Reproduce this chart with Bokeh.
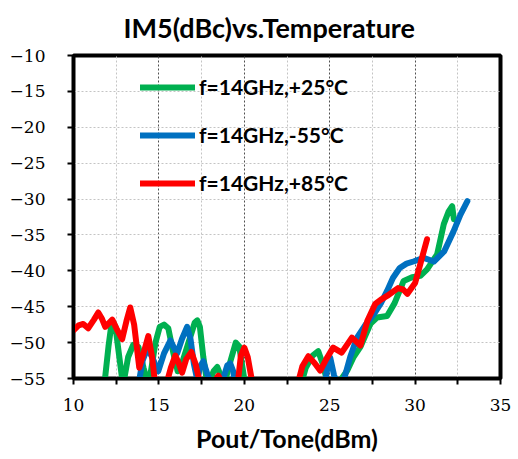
from bokeh.plotting import figure
from bokeh.models import FixedTicker, Range1d, Legend, LegendItem
from bokeh.embed import file_html
from bokeh.resources import INLINE

# IM5 (dBc) versus output power per tone, three temperatures, f = 14 GHz
# Each series is recorded in two sweeps (low-power and high-power region).

g25_x1 = [11.8, 12.05, 12.2, 12.33, 12.46, 12.6, 12.9, 13.2, 13.5, 13.8, 14.1, 14.4, 14.8,
          15.05, 15.3, 15.55, 15.85, 16.1, 16.4, 16.8, 17.1, 17.25, 17.4, 17.6, 17.85,
          18.2, 18.42, 18.6, 18.8, 19.2, 19.5, 19.7, 20.06]
g25_y1 = [-56, -50.5, -47.8, -47.2, -47.8, -50.5, -56, -52, -50.3, -50.6, -53.5, -56, -50,
          -47.8, -47.5, -48, -51.5, -54, -52.5, -49.5, -47.2, -46.9, -47.8, -52, -56,
          -54, -53.4, -54.5, -56, -52.5, -50, -50.5, -56]
g25_x2 = [23.3, 23.6, 24.0, 24.33, 24.6, 24.86, 25.3, 25.7, 26.03, 26.4, 26.8, 27.38, 27.77,
          28.36, 28.8, 29.33, 29.82, 30.31, 30.7, 31.29, 31.68, 31.95, 32.17, 32.27]
g25_y2 = [-56, -53.5, -51.8, -51.2, -53, -55.5, -56, -55, -53.9, -52, -50.6, -47.4, -46.5,
          -46.3, -44.5, -41.4, -40.9, -40.7, -39.8, -37.7, -33.5, -31.8, -31, -32.8]

m55_x1 = [13.79, 14.05, 14.32, 14.6, 14.96, 15.3, 15.67, 15.9, 16.07, 16.35, 16.65, 16.85,
          17.05, 17.25, 17.42, 17.6, 17.85, 18.13, 18.7, 19.0, 19.18, 19.35, 19.47]
m55_y1 = [-56, -52.5, -50.8, -52, -54, -51.5, -49.7, -50.8, -51.5, -49.5, -47.8, -49.5,
          -53, -55.2, -53.3, -52.6, -54.5, -56, -55.5, -53.2, -52.9, -54, -56]
m55_x2 = [24.7, 24.9, 25.03, 25.25, 25.55, 25.85, 26.2, 26.6, 27.1, 27.6, 28.0, 28.36, 28.7,
          29.1, 29.5, 29.9, 30.5, 31.1, 31.7, 32.25, 32.65, 33.06]
m55_y2 = [-56, -53, -52.1, -54.5, -56.5, -55, -52, -49.3, -47.5, -46, -44.5, -42.8, -41,
          -39.6, -39, -38.7, -38.2, -38.7, -37.3, -34.5, -32.2, -30.3]

p85_x1 = [10.0, 10.3, 10.57, 10.86, 11.2, 11.45, 11.65, 11.86, 12.27, 12.55, 12.85, 13.1,
          13.32, 13.55, 13.85, 14.1, 14.38, 14.6, 14.79, 15.3, 15.7, 15.96, 16.15, 16.36,
          16.6, 16.9, 17.15, 17.43, 18.1, 18.48, 18.8, 19.6, 19.8, 20.0, 20.2, 20.5]
p85_y1 = [-48.3, -47.6, -47.4, -48.0, -46.8, -45.8, -46.6, -47.8, -46.8, -48.2, -49.5, -47,
          -45.1, -47.5, -53.5, -51.5, -49.1, -52, -56, -57, -53.5, -51.8, -52.8, -54.2,
          -52.3, -51.3, -53, -56, -56, -54.6, -56, -56, -51.8, -50.7, -52, -56]
p85_x2 = [23.1, 23.4, 23.75, 24.1, 24.45, 24.8, 25.2, 25.7, 26.3, 26.8, 27.2, 27.67, 28.0,
          28.36, 29.0, 29.3, 29.55, 30.0, 30.3, 30.7]
p85_y2 = [-56, -53.3, -51.9, -52.8, -53.9, -52.3, -50.7, -51.4, -49.3, -50.4, -47, -44.6, -44,
          -43.5, -42.4, -42.6, -43.2, -41.7, -39.1, -35.6]

series = [
    ("f=14GHz,+25°C", "#00B050", [g25_x1, g25_x2], [g25_y1, g25_y2]),
    ("f=14GHz,-55°C", "#0070C0", [m55_x1, m55_x2], [m55_y1, m55_y2]),
    ("f=14GHz,+85°C", "#FF0000", [p85_x1, p85_x2], [p85_y1, p85_y2]),
]

x_ticks = [10, 15, 20, 25, 30, 35]
x_minor = [12.5, 17.5, 22.5, 27.5, 32.5]
y_ticks = [-55, -50, -45, -40, -35, -30, -25, -20, -15, -10]
y_labels = {t: "\u2212" + str(abs(t)) for t in y_ticks}

SERIF = "DejaVu Serif"

p = figure(width=518, height=459, x_range=Range1d(10, 35), y_range=Range1d(-55, -10),
           output_backend="svg", toolbar_location=None,
           min_border_left=73, min_border_right=18, min_border_top=54, min_border_bottom=81)

p.title.text = "IM5(dBc)vs.Temperature"
p.title.align = "left"
p.title.offset = 50
p.title.vertical_align = "top"
p.title.text_font = "Lato"
p.title.text_font_style = "bold"
p.title.text_font_size = "27px"
p.title.text_line_height = 0.7
p.title.text_color = "black"
p.title.standoff = 20

p.outline_line_color = "black"
p.outline_line_width = 4
p.outline_line_alpha = 1
p.background_fill_color = "white"
p.border_fill_color = "white"

p.xaxis.ticker = FixedTicker(ticks=x_ticks, minor_ticks=x_minor)
p.yaxis.ticker = FixedTicker(ticks=y_ticks)
p.yaxis.major_label_overrides = y_labels

for ax in (p.xaxis[0], p.yaxis[0]):
    ax.axis_line_width = 3
    ax.axis_line_color = "black"
    ax.major_tick_in = 0
    ax.major_tick_out = 6
    ax.major_tick_line_width = 2
    ax.minor_tick_in = 0
    ax.minor_tick_out = 6
    ax.minor_tick_line_width = 2
    ax.major_label_text_font = SERIF
    ax.major_label_text_font_size = "17px"
    ax.major_label_text_color = "black"
p.yaxis.minor_tick_out = 0
p.yaxis.major_label_standoff = 22
p.xaxis.major_label_standoff = 14

p.xaxis.axis_label = "Pout/Tone(dBm)"
p.xaxis.axis_label_text_font = "Lato"
p.xaxis.axis_label_text_font_style = "bold"
p.xaxis.axis_label_text_font_size = "25px"
p.xaxis.axis_label_text_color = "black"
p.xaxis.axis_label_standoff = 9

p.xgrid.grid_line_color = "#505050"
p.xgrid.grid_line_dash = "2 2"
p.xgrid.grid_line_width = 1
p.xgrid.minor_grid_line_color = "#c4c4c4"
p.xgrid.minor_grid_line_dash = "2 2"
p.ygrid.grid_line_color = "#c4c4c4"
p.ygrid.grid_line_dash = "2 2"

items = []
for label, color, xs, ys in series:
    r = p.multi_line(xs=xs, ys=ys, line_color=color, line_width=6,
                     line_join="round", line_cap="round")
    items.append(LegendItem(label=label, renderers=[r]))

legend = Legend(items=items, location=(67, 183))
legend.glyph_width = 55
legend.glyph_height = 20
legend.label_height = 20
legend.spacing = 23
legend.padding = 0
legend.margin = 0
legend.label_standoff = 4
legend.label_text_font = "Lato"
legend.label_text_font_style = "bold"
legend.label_text_font_size = "21px"
legend.label_text_color = "black"
legend.background_fill_alpha = 0
legend.border_line_alpha = 0
p.add_layout(legend)

open("out.html", "w").write(file_html(p, INLINE))
